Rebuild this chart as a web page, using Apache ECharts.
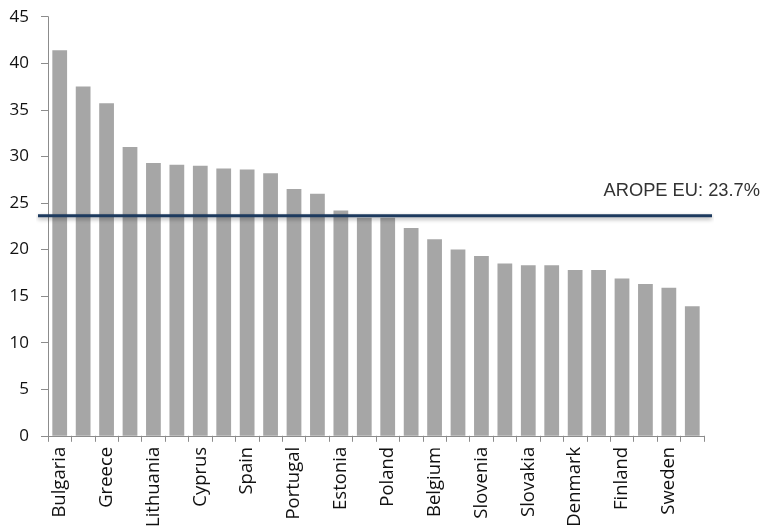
<!DOCTYPE html>
<html>
<head>
<meta charset="utf-8">
<script src="https://cdn.jsdelivr.net/npm/echarts@6/dist/echarts.min.js"></script>
<style>
  html, body { margin: 0; padding: 0; background: #fff; }
  #chart { width: 761px; height: 530px; }
</style>
</head>
<body>
<div id="chart"></div>
<script>
// People at risk of poverty or social exclusion (AROPE), % of population, by country
const countries = [
  'Bulgaria', 'Romania', 'Greece', 'Latvia', 'Lithuania', 'Hungary', 'Cyprus',
  'Italy', 'Spain', 'Ireland', 'Portugal', 'Croatia', 'Estonia', 'United Kingdom',
  'Poland', 'Malta', 'Belgium', 'Germany', 'Slovenia', 'Luxembourg', 'Slovakia',
  'Austria', 'Denmark', 'France', 'Finland', 'Netherlands', 'Sweden', 'Czech Republic'
];
const aropeValues = [
  41.4, 37.5, 35.7, 31.0, 29.3, 29.1, 29.0, 28.7, 28.6, 28.2, 26.5, 26.0, 24.2, 23.4,
  23.4, 22.3, 21.1, 20.0, 19.3, 18.5, 18.3, 18.3, 17.8, 17.8, 16.9, 16.3, 15.9, 13.9
];
const yTicks = { min: 0, max: 45, interval: 5 };
const euAverage = 23.7;
const euLabel = 'AROPE EU: ' + euAverage + '%';

const chart = echarts.init(document.getElementById('chart'), null, { renderer: 'canvas' });

const axisGray = '#8c8c8c';

chart.setOption({
  animation: false,
  backgroundColor: '#ffffff',
  grid: [
    { left: 48, right: 57, top: 16.7, bottom: 93 },
    // reference-line grid, slightly wider than the bar area
    { left: 38, right: 49, top: 16.7, bottom: 93 }
  ],
  xAxis: [
    {
      type: 'category',
      gridIndex: 0,
      data: countries,
      boundaryGap: true,
      axisLine: { lineStyle: { color: axisGray, width: 1 } },
      axisTick: { show: true, interval: 0, length: 6, lineStyle: { color: axisGray } },
      axisLabel: {
        interval: 1,
        rotate: 90,
        margin: 11,
        color: '#111',
        fontFamily: 'Open Sans',
        fontSize: 18.5
      },
      splitLine: { show: false }
    },
    { type: 'value', gridIndex: 1, min: 0, max: 1, show: false }
  ],
  yAxis: [
    {
      type: 'value',
      gridIndex: 0,
      min: yTicks.min,
      max: yTicks.max,
      interval: yTicks.interval,
      axisLine: { show: true, lineStyle: { color: axisGray, width: 1 } },
      axisTick: { show: true, length: 7, lineStyle: { color: axisGray } },
      axisLabel: {
        margin: 19,
        color: '#111',
        fontFamily: 'Open Sans',
        fontSize: 17
      },
      splitLine: { show: false }
    },
    { type: 'value', gridIndex: 1, min: yTicks.min, max: yTicks.max, show: false }
  ],
  series: [
    {
      name: 'AROPE',
      type: 'bar',
      xAxisIndex: 0,
      yAxisIndex: 0,
      data: aropeValues,
      barCategoryGap: '37%',
      itemStyle: { color: '#a6a6a6' }
    },
    {
      name: 'EU average',
      type: 'line',
      xAxisIndex: 1,
      yAxisIndex: 1,
      data: [[0, euAverage], [1, euAverage]],
      showSymbol: false,
      symbol: 'none',
      lineStyle: {
        color: '#1d3a5e',
        width: 3,
        shadowColor: 'rgba(0,0,0,0.35)',
        shadowBlur: 4,
        shadowOffsetY: 2
      },
      endLabel: {
        show: true,
        formatter: euLabel,
        distance: 0,
        align: 'right',
        verticalAlign: 'middle',
        offset: [48, -25],
        color: '#333',
        fontFamily: 'Liberation Sans',
        fontSize: 18.3
      },
      z: 5
    }
  ]
});
</script>
</body>
</html>
